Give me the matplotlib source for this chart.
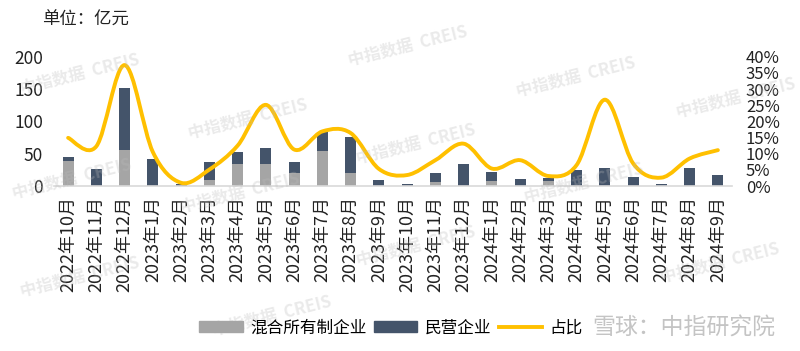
import numpy as np
import matplotlib
matplotlib.use("Agg")
import matplotlib.pyplot as plt
from matplotlib.path import Path
from matplotlib.patches import PathPatch
from matplotlib.lines import Line2D
from matplotlib.patches import Patch

plt.rcParams['font.family'] = ['Noto Sans CJK SC', 'DejaVu Sans']

months = ['2022年10月', '2022年11月', '2022年12月', '2023年1月', '2023年2月', '2023年3月',
          '2023年4月', '2023年5月', '2023年6月', '2023年7月', '2023年8月', '2023年9月',
          '2023年10月', '2023年11月', '2023年12月', '2024年1月', '2024年2月', '2024年3月',
          '2024年4月', '2024年5月', '2024年6月', '2024年7月', '2024年8月', '2024年9月']
# 混合所有制企业 (亿元)
mixed = [38, 0, 56, 0, 0, 9, 34, 34, 19.5, 54, 19.5, 0,
         0, 6.5, 0, 8, 0, 8.5, 0, 0, 0, 0, 0, 0]
# 民营企业 (亿元)
private = [7, 27, 96, 42.5, 3, 27.5, 18, 25, 17, 30, 56.5, 9,
           3, 14, 34, 13.5, 11, 3.8, 25.5, 27.5, 14.5, 3, 27.5, 17]
# 占比 (%)
share = [14.9, 12.3, 37.4, 10.5, 1.0, 5.1, 12.5, 25.1, 11.3, 16.9, 16.4, 5.3,
         3.4, 8.0, 13.1, 5.4, 8.0, 3.1, 6.5, 26.7, 7.0, 2.6, 8.5, 11.1]

c_mixed = '#A5A5A5'
c_private = '#44546A'
c_line = '#FFC000'

fig = plt.figure(figsize=(8, 3.51), dpi=100)
ax = fig.add_axes([0.0675, 0.470, 0.8475, 0.3685])
x = np.arange(len(months))

ax.bar(x, mixed, width=0.39, color=c_mixed, zorder=2)
ax.bar(x, private, width=0.39, bottom=mixed, color=c_private, zorder=2)
ax.set_xlim(-0.5, len(months) - 0.5)
ax.set_ylim(0, 200)
ax.set_yticks([0, 50, 100, 150, 200])
ax.set_xticks(x)
ax.set_xticklabels(months, rotation=90, fontsize=13, color='#222222')
ax.tick_params(axis='x', length=0, pad=7)
ax.tick_params(axis='y', length=0, pad=8, labelsize=12.5, labelcolor='#222222')
for s in ['top', 'right', 'left']:
    ax.spines[s].set_visible(False)
ax.spines['bottom'].set_color('#D9D9D9')
ax.spines['bottom'].set_linewidth(1.2)

# 占比 on the right axis, smoothed like an Excel line
ax2 = ax.twinx()
ax2.set_ylim(0, 40)
ax2.set_yticks(range(0, 41, 5))
ax2.set_yticklabels([f'{v}%' for v in range(0, 41, 5)])
ax2.tick_params(axis='y', length=0, pad=10, labelsize=12, labelcolor='#222222')
for s in ax2.spines.values():
    s.set_visible(False)

pts = np.column_stack([x, share]).astype(float)
verts = [pts[0]]
codes = [Path.MOVETO]
n = len(pts)
for i in range(n - 1):
    p0 = pts[i - 1] if i > 0 else pts[i]
    p1 = pts[i]
    p2 = pts[i + 1]
    p3 = pts[i + 2] if i + 2 < n else pts[i + 1]
    verts += [p1 + (p2 - p0) / 6, p2 - (p3 - p1) / 6, p2]
    codes += [Path.CURVE4] * 3
ax2.add_patch(PathPatch(Path(verts, codes), facecolor='none', edgecolor=c_line,
                        lw=2.8, capstyle='round', joinstyle='round', zorder=3))

fig.text(0.052, 0.943, '单位：亿元', fontsize=12.5, color='#222222', va='center')

handles = [Patch(color=c_mixed), Patch(color=c_private),
           Line2D([], [], color=c_line, lw=2.8)]
fig.legend(handles, ['混合所有制企业', '民营企业', '占比'], loc='center',
           bbox_to_anchor=(0.489, 0.066), ncol=3, frameon=False, fontsize=12,
           handlelength=2.6, handletextpad=0.45, columnspacing=0.45)

# watermarks
wm = [(0.51, 0.87), (0.72, 0.78), (0.92, 0.72), (0.10, 0.79), (0.31, 0.66),
      (0.52, 0.59), (0.09, 0.49), (0.73, 0.48), (0.30, 0.45), (0.52, 0.30),
      (0.10, 0.21), (0.90, 0.25), (0.34, 0.10)]
for wx, wy in wm:
    fig.text(wx, wy, '中指数据  CREIS', fontsize=12, color='#BBBBBB', alpha=0.3,
             rotation=14, ha='center', va='center', fontweight='bold')
fig.text(0.855, 0.066, '雪球：中指研究院', fontsize=16.5, color='#C4C4C4',
         ha='center', va='center')

fig.savefig('out.png', dpi=100)
